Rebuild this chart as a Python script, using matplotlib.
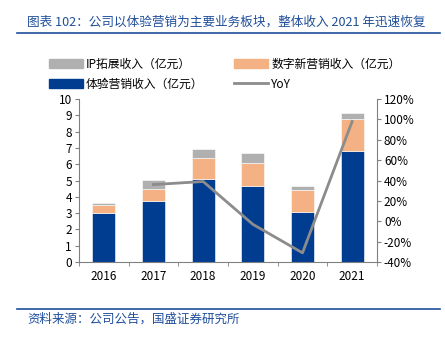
import numpy as np
import matplotlib
matplotlib.use("Agg")
from matplotlib import pyplot as plt
from matplotlib.lines import Line2D
from matplotlib.patches import Patch

plt.rcParams['font.family'] = ['Noto Sans CJK SC', 'DejaVu Sans']
plt.rcParams['axes.unicode_minus'] = True

years = ['2016', '2017', '2018', '2019', '2020', '2021']
exp_rev = [3.0, 3.75, 5.1, 4.65, 3.05, 6.8]       # 体验营销收入
digital_rev = [0.5, 0.7, 1.27, 1.45, 1.37, 1.97]  # 数字新营销收入
ip_rev = [0.15, 0.55, 0.55, 0.6, 0.23, 0.35]      # IP拓展收入
yoy_years = ['2017', '2018', '2019', '2020', '2021']
yoy = [36, 39, -3, -31, 98]                        # %

c_blue = '#003D91'
c_orange = '#F4B183'
c_gray = '#B0B0B0'
c_line = '#8C8C8C'
c_title = '#1F4E9A'

W, H = 445, 337
fig = plt.figure(figsize=(W / 100, H / 100), dpi=100)

ax = fig.add_axes([79 / W, 1 - 262 / H, 298 / W, 163 / H])
x = np.arange(len(years))
bw = 0.46
ax.bar(x, exp_rev, bw, color=c_blue, edgecolor='white', linewidth=0.4, zorder=2)
ax.bar(x, digital_rev, bw, bottom=exp_rev, color=c_orange, edgecolor='white', linewidth=0.4, zorder=2)
b2 = np.array(exp_rev) + np.array(digital_rev)
ax.bar(x, ip_rev, bw, bottom=b2, color=c_gray, edgecolor='white', linewidth=0.4, zorder=2)

ax.set_xlim(-0.5, len(years) - 0.5)
ax.set_ylim(0, 10)
ax.set_yticks(range(0, 11))
ax.set_xticks(x)
ax.set_xticklabels(years)
ax.set_xticks(np.arange(-0.5, len(years)), minor=True)
ax.tick_params(axis='x', which='major', length=0, labelsize=8.5, pad=6)
ax.tick_params(axis='x', which='minor', length=3, color='#808080', direction='out')
ax.tick_params(axis='y', length=3, color='#808080', labelsize=8.5, pad=2)
for s in ['top', 'right']:
    ax.spines[s].set_visible(False)
for s in ['left', 'bottom']:
    ax.spines[s].set_color('#808080')
    ax.spines[s].set_linewidth(0.8)

ax2 = ax.twinx()
yx = [years.index(y) for y in yoy_years]
ax2.plot(yx, yoy, color=c_line, lw=2, zorder=3)
ax2.set_ylim(-40, 120)
ax2.set_yticks(range(-40, 121, 20))
ax2.set_yticklabels([f'{v}%' for v in range(-40, 121, 20)])
ax2.tick_params(axis='y', length=3, color='#808080', labelsize=8.5, pad=2)
for s in ['top', 'left', 'bottom']:
    ax2.spines[s].set_visible(False)
ax2.spines['right'].set_color('#808080')
ax2.spines['right'].set_linewidth(0.8)

# legend filled column by column: col 1 = IP, 体验; col 2 = 数字, YoY
handles = [Patch(color=c_gray), Patch(color=c_blue), Patch(color=c_orange),
           Line2D([], [], color=c_line, lw=2)]
labels = ['IP拓展收入（亿元）', '体验营销收入（亿元）', '数字新营销收入（亿元）', 'YoY']
fig.legend(handles, labels, ncol=2, loc='upper left', bbox_to_anchor=(38 / W, 1 - 47 / H),
           frameon=False, fontsize=8.5, handlelength=2.9, handleheight=0.8,
           columnspacing=2.6, handletextpad=0.25, labelspacing=0.6)

fig.text(27 / W, 1 - 22 / H, '图表 102：公司以体验营销为主要业务板块，整体收入 2021 年迅速恢复',
         color=c_title, fontsize=9.1, va='center', ha='left', style='italic')
fig.add_artist(Line2D([17 / W, 440 / W], [1 - 33 / H, 1 - 33 / H], color=c_title, lw=1.2))
fig.add_artist(Line2D([17 / W, 440 / W], [1 - 309 / H, 1 - 309 / H], color=c_title, lw=1.2))
fig.text(27 / W, 1 - 319 / H, '资料来源：公司公告，国盛证券研究所',
         color=c_title, fontsize=9, va='center', ha='left', style='italic')

fig.savefig('out.png', dpi=100)
